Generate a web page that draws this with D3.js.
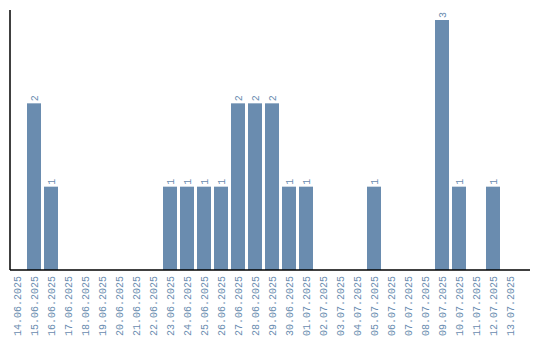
<!DOCTYPE html>
<html>
<head>
<meta charset="utf-8">
<script src="https://cdn.jsdelivr.net/npm/d3@7"></script>
<style>
  body { margin: 0; background: #fff; }
  text { font-family: "Liberation Mono", monospace; }
</style>
</head>
<body>
<div id="chart"></div>
<script>
// Data
const dates = ["14.06.2025", "15.06.2025", "16.06.2025", "17.06.2025", "18.06.2025",
  "19.06.2025", "20.06.2025", "21.06.2025", "22.06.2025", "23.06.2025", "24.06.2025",
  "25.06.2025", "26.06.2025", "27.06.2025", "28.06.2025", "29.06.2025", "30.06.2025",
  "01.07.2025", "02.07.2025", "03.07.2025", "04.07.2025", "05.07.2025", "06.07.2025",
  "07.07.2025", "08.07.2025", "09.07.2025", "10.07.2025", "11.07.2025", "12.07.2025",
  "13.07.2025"];
const counts = [0, 2, 1, 0, 0, 0, 0, 0, 0, 1, 1, 1, 1, 2, 2, 2, 1, 1, 0, 0, 0, 1, 0, 0, 0, 3, 1, 0, 1, 0];

const data = dates.map((d, i) => ({ date: d, count: counts[i] }));

const width = 540;
const height = 340;
const plotLeft = 10, baseline = 270, plotTop = 20;

const svg = d3.select("#chart")
    .append("svg")
    .attr("width", width)
    .attr("height", height);

const xScale = d3.scaleBand()
    .domain(dates)
    .range([plotLeft, plotLeft + 17 * dates.length - 3])
    .paddingInner(3 / 17)
    .paddingOuter(0);

const yScale = d3.scaleLinear()
    .domain([0, d3.max(counts)])
    .range([baseline, plotTop]);

svg.selectAll(".bar")
    .data(data.filter(d => d.count > 0))
    .join("rect")
    .attr("class", "bar")
    .attr("x", d => xScale(d.date))
    .attr("y", d => yScale(d.count))
    .attr("width", xScale.bandwidth())
    .attr("height", d => baseline - yScale(d.count))
    .attr("fill", "#6a8caf");

svg.selectAll(".value")
    .data(data.filter(d => d.count > 0))
    .join("text")
    .attr("class", "value")
    .attr("transform", d => `translate(${xScale(d.date) + xScale.bandwidth() / 2 + 3.5},${yScale(d.count) - 2}) rotate(-90)`)
    .attr("font-size", 10)
    .attr("fill", "#6a8caf")
    .text(d => d.count);

// axes lines
svg.append("line")
    .attr("x1", plotLeft).attr("x2", plotLeft)
    .attr("y1", 10).attr("y2", baseline)
    .attr("stroke", "black").attr("stroke-width", 1.5);

svg.append("line")
    .attr("x1", plotLeft).attr("x2", 530)
    .attr("y1", baseline).attr("y2", baseline)
    .attr("stroke", "black").attr("stroke-width", 1.5);

svg.selectAll(".label")
    .data(dates)
    .join("text")
    .attr("class", "label")
    .attr("transform", d => `translate(${xScale(d) + xScale.bandwidth() / 2 + 3.5},${baseline + 6}) rotate(-90)`)
    .attr("text-anchor", "end")
    .attr("font-size", 10)
    .attr("fill", "#6a8caf")
    .text(d => d);
</script>
</body>
</html>
